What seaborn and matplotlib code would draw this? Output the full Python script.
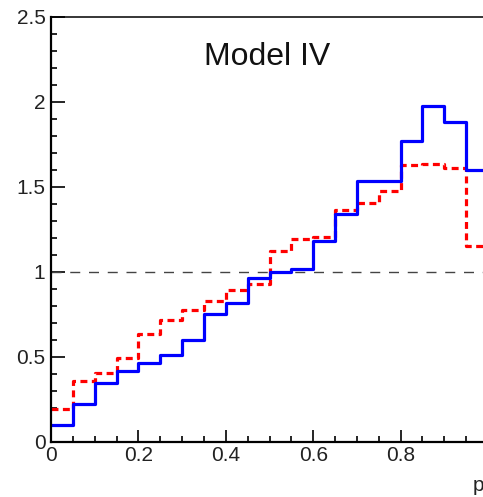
import numpy as np
import pandas as pd
import matplotlib
matplotlib.use("Agg")
import matplotlib.pyplot as plt
import seaborn as sns
from matplotlib.ticker import MultipleLocator

# ---- data ----
bin_edges = [round(0.05 * i, 2) for i in range(21)]
blue_values = [0.10, 0.22, 0.343, 0.418, 0.465, 0.512, 0.598, 0.748, 0.815, 0.965,
               1.00, 1.015, 1.18, 1.34, 1.536, 1.536, 1.772, 1.978, 1.88, 1.597]
red_values = [0.192, 0.357, 0.402, 0.494, 0.632, 0.716, 0.775, 0.828, 0.893, 0.925,
              1.12, 1.19, 1.204, 1.361, 1.404, 1.473, 1.63, 1.634, 1.61, 1.149]
title_text = "Model IV"
x_label = "p"
x_ticks = [0, 0.2, 0.4, 0.6, 0.8]
x_tick_labels = ["0", "0.2", "0.4", "0.6", "0.8"]
y_ticks = [0, 0.5, 1, 1.5, 2, 2.5]
y_tick_labels = ["0", "0.5", "1", "1.5", "2", "2.5"]

centers = [(bin_edges[i] + bin_edges[i + 1]) / 2 for i in range(len(bin_edges) - 1)]
df = pd.DataFrame({"x": centers, "blue": blue_values, "red": red_values})

sns.set_style("white")
plt.rcParams["font.family"] = ["Liberation Sans", "DejaVu Sans"]
plt.rcParams["lines.scale_dashes"] = False

W, H = 483, 497
fig = plt.figure(figsize=(W / 100, H / 100), dpi=100)
left = 51 / W
bottom = (H - 441.5) / H
width = 437 / W
height = (441.5 - 17) / H
ax = fig.add_axes([left, bottom, width, height])

sns.histplot(data=df, x="x", weights="red", bins=bin_edges, element="step",
             fill=False, color="#ff0000", linewidth=2.3,
             linestyle=(0, (5, 3.2)), ax=ax)
sns.histplot(data=df, x="x", weights="blue", bins=bin_edges, element="step",
             fill=False, color="#0000ff", linewidth=2.3, ax=ax)

ax.axhline(1.0, color="#444444", linewidth=1.0, linestyle=(0, (7.2, 6.3)), zorder=1)

ax.set_xlim(0, 1.0)
ax.set_ylim(0, 2.5)
ax.set_xlabel("")
ax.set_ylabel("")

ax.set_xticks(x_ticks)
ax.set_xticklabels(x_tick_labels)
ax.set_yticks(y_ticks)
ax.set_yticklabels(y_tick_labels)
ax.xaxis.set_minor_locator(MultipleLocator(0.05))
ax.yaxis.set_minor_locator(MultipleLocator(0.1))

ax.tick_params(axis="both", which="major", direction="in", length=9, width=1.2,
               labelsize=15, color="black", labelcolor="#222222")
ax.tick_params(axis="x", which="major", pad=3.5)
ax.tick_params(axis="y", which="major", pad=4, length=10)
ax.tick_params(axis="both", which="minor", direction="in", length=4.5, width=1.2,
               color="black")
ax.tick_params(axis="x", which="both", bottom=True, top=False)
ax.tick_params(axis="y", which="both", left=True, right=False)

for s in ["left", "bottom"]:
    ax.spines[s].set_linewidth(1.6)
    ax.spines[s].set_color("black")
ax.spines["top"].set_linewidth(1.1)
ax.spines["top"].set_color("black")
ax.spines["right"].set_visible(False)

ax.text(0.494, 2.22, title_text, ha="center", va="baseline", fontsize=23,
        color="#111111")

fig.text(472.5 / W, 1 - 491 / H, x_label, ha="left", va="baseline", fontsize=15,
         color="#222222")

fig.savefig("out.png", dpi=100)
